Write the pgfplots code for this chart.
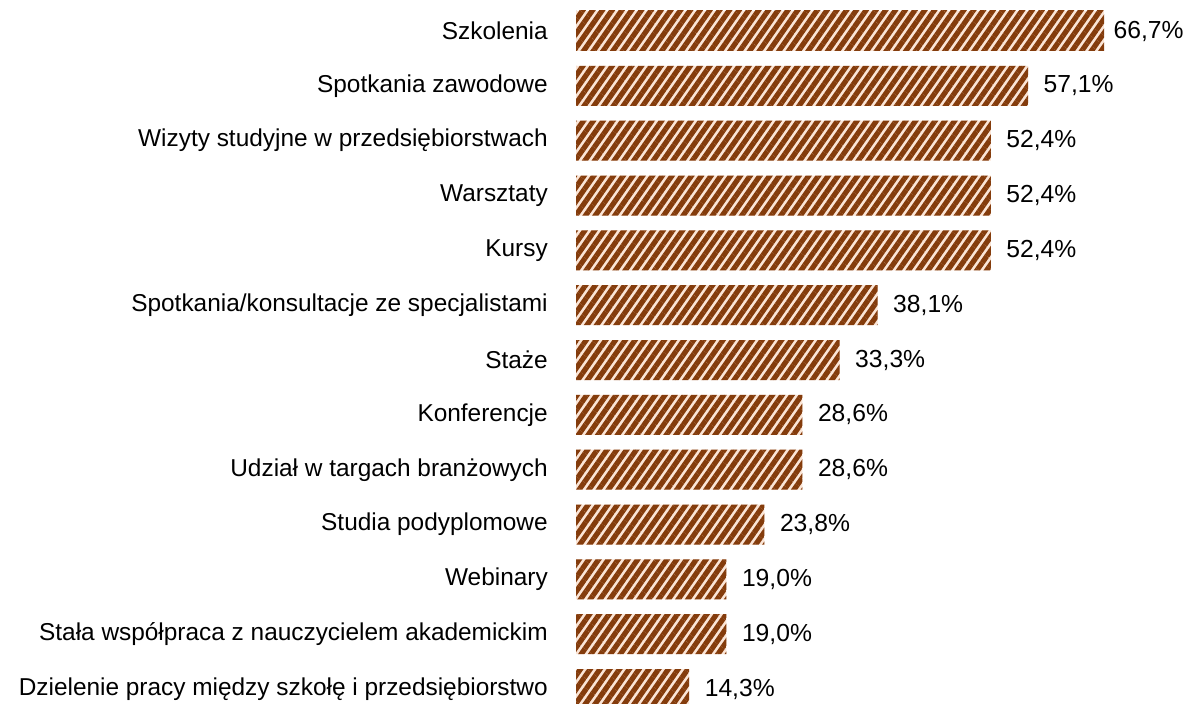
\documentclass[border=0pt]{standalone}
\usepackage{fontspec}
\setmainfont{Liberation Sans}
\usepackage{pgfplots}
\pgfplotsset{compat=1.18}
\usetikzlibrary{patterns.meta}
\definecolor{brn}{HTML}{843C0C}
\definecolor{pch}{HTML}{FBE5D6}
\begin{document}
\begin{tikzpicture}
\begin{axis}[
  xbar, scale only axis,
  width=396pt, height=527.25pt,
  xmin=0, xmax=66.7,
  ymin=-0.565, ymax=12.255,
  y dir=reverse,
  bar width=30pt, bar shift=0pt,
  clip=false,
  axis line style={draw=none},
  major tick length=0pt,
  xtick=\empty,
  ytick={0,...,12},
  yticklabels={Szkolenia, Spotkania zawodowe, Wizyty studyjne w przedsiębiorstwach, Warsztaty, Kursy, Spotkania/konsultacje ze specjalistami, Staże, Konferencje, Udział w targach branżowych, Studia podyplomowe, Webinary, Stała współpraca z nauczycielem akademickim, Dzielenie pracy między szkołę i przedsiębiorstwo},
  yticklabel style={font=\fontsize{18.3}{21}\selectfont, inner sep=0pt, xshift=-21pt},
  nodes near coords={\pgfmathprintnumber[fixed, fixed zerofill, precision=1, use comma]{\pgfplotspointmeta}\%},
  every node near coord/.append style={font=\fontsize{18.5}{21}\selectfont, anchor=west, inner sep=0pt, xshift=11.5pt},
  /pgf/number format/assume math mode=true,
]
\addplot[draw=none, fill=pch, postaction={pattern={Lines[angle=55,distance=6pt,line width=3.9pt]}, pattern color=brn},
  every node near coord/.append style={xshift=-4.5pt}] coordinates {
(66.7,0)};
\addplot[draw=none, fill=pch, postaction={pattern={Lines[angle=55,distance=6pt,line width=3.9pt]}, pattern color=brn}] coordinates {
(57.1,1) (52.4,2) (52.4,3) (52.4,4) (38.1,5) (33.3,6) (28.6,7) (28.6,8) (23.8,9) (19.0,10) (19.0,11) (14.3,12)};
\coordinate (bl) at (axis cs:-72.76,12.255);
\coordinate (tr) at (axis cs:77.18,-0.565);
\end{axis}
\pgfresetboundingbox
\useasboundingbox (bl) rectangle (tr);
\end{tikzpicture}
\end{document}
